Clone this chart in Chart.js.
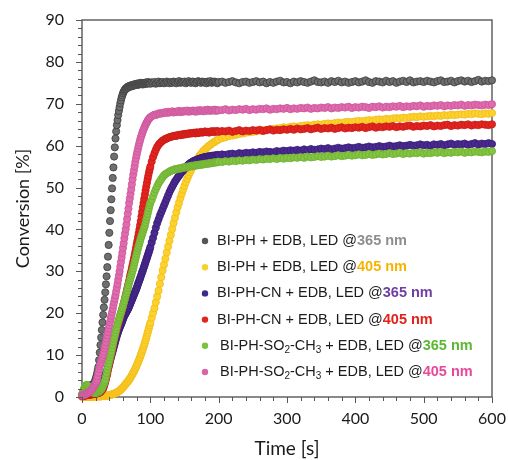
<!DOCTYPE html>
<html>
<head>
<meta charset="utf-8">
<script src="https://cdn.jsdelivr.net/npm/chart.js@4.4.1/dist/chart.umd.min.js"></script>
<style>
  html, body { margin: 0; padding: 0; background: #fff; }
</style>
</head>
<body>
<canvas id="grafico" width="508" height="460"></canvas>
<script>
// tempos (s): 1 s ate 100, 2 s ate 200, 5 s ate 600
const timeA = [0,1,2,3,4,5,6,7,8,9,
  10,11,12,13,14,15,16,17,18,19,
  20,21,22,23,24,25,26,27,28,29,
  30,31,32,33,34,35,36,37,38,39,
  40,41,42,43,44,45,46,47,48,49,
  50,51,52,53,54,55,56,57,58,59,
  60,61,62,63,64,65,66,67,68,69,
  70,71,72,73,74,75,76,77,78,79,
  80,81,82,83,84,85,86,87,88,89,
  90,91,92,93,94,95,96,97,98,99,
  100];
const timeB = [102,104,106,108,110,112,114,116,118,120,
  122,124,126,128,130,132,134,136,138,140,
  142,144,146,148,150,152,154,156,158,160,
  162,164,166,168,170,172,174,176,178,180,
  182,184,186,188,190,192,194,196,198,200];
const timeC = [205,210,215,220,225,230,235,240,245,250,
  255,260,265,270,275,280,285,290,295,300,
  305,310,315,320,325,330,335,340,345,350,
  355,360,365,370,375,380,385,390,395,400,
  405,410,415,420,425,430,435,440,445,450,
  455,460,465,470,475,480,485,490,495,500,
  505,510,515,520,525,530,535,540,545,550,
  555,560,565,570,575,580,585,590,595,600];

// BI-PH + EDB, LED @365 nm
const ph365A = [0.2,0.4,0.5,0.6,0.7,0.8,0.9,1.0,1.1,1.2,
  1.3,1.5,1.7,1.9,2.1,2.4,2.7,3.0,3.4,3.8,
  4.3,4.9,5.6,6.4,7.2,8.8,10.6,12.4,14.2,16.0,
  17.8,19.6,21.4,23.2,25.0,26.9,28.8,31.0,33.5,36.3,
  39.2,42.0,44.6,47.2,49.8,52.3,54.8,57.4,59.6,61.7,
  63.4,64.9,66.1,67.3,68.3,69.2,70.1,70.8,71.5,72.0,
  72.5,72.9,73.2,73.4,73.7,73.6,73.9,74.1,73.9,74.2,
  74.3,74.1,74.4,74.2,74.5,74.3,74.6,74.4,74.7,74.5,
  74.8,74.5,74.7,74.9,74.6,74.8,75.0,74.7,74.9,74.6,
  74.9,74.7,75.0,74.8,75.1,74.8,74.9,75.2,74.9,75.0,
  74.8];
const ph365B = [75.1,74.9,75.2,74.8,75.0,75.3,74.9,75.1,75.2,74.9,
  75.0,75.3,75.1,74.9,75.2,75.0,75.3,75.1,74.9,75.2,
  75.4,75.0,75.2,75.1,75.3,74.9,75.2,75.4,75.1,75.0,
  75.3,75.2,74.9,75.1,75.4,75.2,75.0,75.3,75.1,75.2,
  74.9,75.3,75.1,75.4,75.0,75.2,75.3,75.1,74.9,75.2];
const ph365C = [75.3,75.0,75.2,75.4,75.1,74.9,75.2,75.3,75.0,75.2,
  75.4,75.1,75.3,74.9,75.2,75.0,75.3,75.5,75.1,75.2,
  74.9,75.3,75.1,75.4,75.2,75.0,75.3,75.6,75.2,75.1,
  75.3,75.0,75.4,75.2,75.5,75.1,75.3,75.0,75.2,75.4,
  75.1,75.3,75.6,75.2,75.0,75.4,75.3,75.1,75.5,75.2,
  75.4,75.0,75.3,75.5,75.2,75.6,75.1,75.3,75.4,75.2,
  75.5,75.3,75.1,75.4,75.6,75.2,75.3,75.5,75.1,75.4,
  75.6,75.3,75.5,75.2,75.4,75.7,75.3,75.5,75.4,75.6];

// BI-PH + EDB, LED @405 nm
const ph405A = [0.0,0.1,0.0,0.1,0.0,0.1,0.0,0.1,0.1,0.0,
  0.1,0.1,0.0,0.1,0.1,0.0,0.1,0.1,0.2,0.1,
  0.1,0.2,0.1,0.2,0.1,0.2,0.2,0.1,0.2,0.2,
  0.3,0.2,0.3,0.3,0.2,0.3,0.3,0.4,0.3,0.4,
  0.4,0.5,0.5,0.6,0.6,0.7,0.7,0.8,0.9,0.9,
  1.0,1.1,1.2,1.3,1.4,1.5,1.7,1.8,2.0,2.1,
  2.3,2.5,2.7,2.9,3.1,3.3,3.5,3.7,3.9,4.1,
  4.4,4.6,4.9,5.2,5.5,5.8,6.1,6.4,6.8,7.1,
  7.5,7.9,8.3,8.7,9.1,9.5,10.0,10.4,10.9,11.4,
  11.9,12.4,12.9,13.5,14.1,14.7,15.3,15.9,16.5,17.1,
  17.7];
const ph405B = [18.9,20.1,21.2,22.6,24.0,25.4,27.0,28.6,30.2,31.6,
  33.0,34.5,35.9,37.3,38.7,40.1,41.5,42.8,44.1,45.3,
  46.4,47.5,48.5,49.5,50.4,51.3,52.1,52.9,53.6,54.3,
  54.9,55.5,56.1,56.6,57.1,57.6,58.0,58.4,58.8,59.1,
  59.4,59.7,60.0,60.2,60.5,60.7,60.9,61.1,61.3,61.5];
const ph405C = [61.8,62.0,62.3,62.4,62.6,62.8,62.9,63.1,63.2,63.3,
  63.4,63.6,63.7,63.8,63.9,64.0,64.1,64.2,64.4,64.3,
  64.5,64.6,64.5,64.7,64.8,64.9,64.8,65.0,65.1,65.0,
  65.2,65.3,65.2,65.4,65.5,65.4,65.6,65.7,65.6,65.8,
  65.9,65.8,66.0,66.1,66.0,66.2,66.3,66.2,66.4,66.3,
  66.5,66.6,66.5,66.7,66.6,66.8,66.9,66.8,67.0,66.9,
  67.0,67.1,67.0,67.2,67.1,67.3,67.2,67.4,67.3,67.4,
  67.5,67.4,67.6,67.5,67.7,67.6,67.5,67.7,67.6,67.8];

// BI-PH-CN + EDB, LED @365 nm
const cn365A = [0.5,0.8,1.1,1.4,1.7,2.0,2.2,2.4,2.5,2.6,
  2.6,2.7,2.7,2.8,2.8,2.7,2.7,2.6,2.6,2.6,
  2.6,2.6,2.7,2.7,2.8,2.9,3.0,3.2,3.4,3.6,
  3.8,4.1,4.4,4.8,5.2,5.6,6.0,6.5,7.0,7.5,
  8.0,8.6,9.2,9.8,10.4,11.0,11.6,12.2,12.8,13.4,
  14.0,14.6,15.1,15.6,16.1,16.5,16.9,17.3,17.7,18.1,
  18.6,19.0,19.4,19.7,20.0,20.3,20.6,20.9,21.2,21.6,
  22.0,22.4,22.8,23.2,23.6,24.0,24.4,24.8,25.2,25.6,
  26.0,26.5,27.0,27.4,27.9,28.3,28.8,29.3,29.8,30.2,
  30.7,31.2,31.7,32.2,32.7,33.2,33.7,34.2,34.7,35.2,
  35.8];
const cn365B = [36.9,38.0,39.2,40.4,41.5,42.4,43.3,44.1,44.9,45.7,
  46.5,47.3,48.1,48.9,49.6,50.2,50.8,51.4,51.9,52.4,
  52.8,53.3,53.7,54.1,54.5,54.9,55.2,55.5,55.8,56.0,
  56.2,56.4,56.5,56.6,56.8,56.9,57.0,57.1,57.2,57.3,
  57.3,57.4,57.5,57.4,57.6,57.5,57.7,57.6,57.8,57.7];
const cn365C = [57.9,57.8,58.0,58.1,57.9,58.2,58.1,58.3,58.2,58.4,
  58.3,58.5,58.4,58.6,58.5,58.4,58.7,58.6,58.8,58.7,
  58.9,58.8,59.0,58.8,59.1,58.9,59.2,59.0,59.1,59.3,
  59.2,59.4,59.1,59.3,59.5,59.3,59.4,59.6,59.4,59.5,
  59.7,59.5,59.6,59.8,59.6,59.7,59.9,59.7,59.8,60.0,
  59.8,59.9,60.1,59.9,60.0,60.2,60.0,60.1,60.3,60.1,
  60.2,60.0,60.3,60.2,60.4,60.1,60.3,60.5,60.2,60.4,
  60.3,60.5,60.2,60.4,60.6,60.3,60.5,60.4,60.6,60.4];

// BI-PH-CN + EDB, LED @405 nm
const cn405A = [0.2,0.3,0.2,0.4,0.3,0.4,0.5,0.4,0.5,0.5,
  0.6,0.5,0.6,0.6,0.7,0.6,0.7,0.7,0.8,0.7,
  0.8,0.8,0.9,0.9,1.0,1.0,1.1,1.2,1.4,1.6,
  1.8,2.0,2.5,3.0,3.6,4.2,4.9,5.5,6.3,7.1,
  7.9,8.7,9.5,10.3,11.1,11.9,12.7,13.5,14.3,15.0,
  15.6,16.3,16.9,17.5,18.1,18.7,19.3,19.9,20.5,21.1,
  21.7,22.3,22.9,23.6,24.3,25.0,25.7,26.4,27.1,27.8,
  28.6,29.3,30.0,30.8,31.5,32.3,33.1,33.9,34.7,35.6,
  36.5,37.3,38.2,39.1,40.0,41.0,42.0,43.1,44.2,45.3,
  46.3,47.3,48.3,49.3,50.2,51.1,52.0,52.8,53.6,54.3,
  55.0];
const cn405B = [56.2,57.3,58.2,59.0,59.7,60.2,60.6,60.9,61.2,61.4,
  61.6,61.7,61.9,62.0,62.1,62.2,62.3,62.4,62.3,62.5,
  62.6,62.5,62.7,62.6,62.8,62.7,62.9,62.8,63.0,62.9,
  63.0,63.1,62.9,63.2,63.0,63.1,63.3,63.1,63.2,63.4,
  63.2,63.3,63.1,63.4,63.3,63.5,63.2,63.4,63.5,63.3];
const cn405C = [63.5,63.4,63.6,63.3,63.5,63.7,63.4,63.6,63.5,63.7,
  63.6,63.8,63.5,63.7,63.9,63.6,63.8,63.7,63.9,63.8,
  64.0,63.8,64.1,63.9,64.0,64.2,63.9,64.1,64.3,64.0,
  64.2,64.1,64.3,64.0,64.2,64.4,64.1,64.3,64.2,64.4,
  64.3,64.5,64.2,64.4,64.6,64.3,64.5,64.4,64.6,64.5,
  64.7,64.4,64.6,64.5,64.7,64.8,64.5,64.7,64.6,64.8,
  64.7,64.9,64.6,64.8,64.7,64.9,65.0,64.7,64.9,64.8,
  65.0,64.9,65.1,64.8,65.0,64.9,65.1,65.0,64.9,65.1];

// BI-PH-SO2-CH3 + EDB, LED @365 nm
const so2365A = [0.5,1.0,1.5,2.0,2.4,2.6,2.8,2.9,2.8,2.6,
  2.3,2.0,1.7,1.5,1.3,1.2,1.1,1.0,1.0,1.0,
  1.0,1.0,1.1,1.1,1.2,1.3,1.4,1.6,1.8,2.0,
  2.4,2.8,3.2,3.6,4.1,4.9,5.7,6.5,7.3,8.0,
  8.7,9.4,10.1,10.8,11.6,12.4,13.2,13.9,14.6,15.3,
  16.0,16.7,17.4,18.0,18.5,19.0,19.6,20.1,20.6,21.2,
  21.7,22.3,22.9,23.5,24.1,24.7,25.3,26.0,26.7,27.3,
  27.9,28.4,29.0,29.6,30.1,30.7,31.4,32.1,32.8,33.5,
  34.2,34.9,35.5,36.1,36.7,37.3,37.9,38.4,38.9,39.4,
  39.9,40.4,40.9,41.6,42.3,43.0,43.7,44.4,45.1,45.8,
  46.4];
const so2365B = [47.0,47.9,48.8,49.6,50.3,51.0,51.5,52.0,52.5,52.9,
  53.2,53.4,53.6,53.8,54.0,54.1,54.2,54.4,54.3,54.5,
  54.6,54.5,54.7,54.8,54.7,54.9,55.0,54.9,55.1,55.2,
  55.1,55.3,55.2,55.4,55.3,55.5,55.4,55.6,55.5,55.7,
  55.6,55.8,55.7,55.9,55.8,56.0,55.9,56.1,56.0,56.2];
const so2365C = [56.1,56.3,56.2,56.4,56.3,56.5,56.4,56.6,56.5,56.7,
  56.6,56.8,56.7,56.9,56.8,57.0,56.8,57.1,56.9,57.1,
  57.0,57.2,57.1,57.3,57.1,57.4,57.2,57.3,57.5,57.3,
  57.4,57.6,57.4,57.5,57.7,57.5,57.6,57.8,57.6,57.7,
  57.9,57.7,57.8,58.0,57.8,57.9,58.1,57.9,58.0,58.2,
  58.0,58.1,58.3,58.0,58.2,58.1,58.3,58.2,58.4,58.1,
  58.3,58.2,58.4,58.3,58.5,58.2,58.4,58.3,58.5,58.4,
  58.6,58.3,58.5,58.4,58.6,58.5,58.4,58.6,58.5,58.7];

// BI-PH-SO2-CH3 + EDB, LED @405 nm
const so2405A = [0.3,0.5,0.4,0.6,0.7,0.6,0.8,0.9,0.9,1.0,
  1.1,1.2,1.4,1.5,1.7,1.9,2.2,2.5,2.8,3.1,
  3.4,3.7,4.2,4.9,5.8,6.7,7.4,7.9,8.4,9.0,
  9.5,10.1,10.8,11.6,12.3,13.1,13.9,14.7,15.5,16.3,
  17.1,17.9,18.7,19.4,20.2,21.0,21.9,22.7,23.5,24.3,
  25.2,26.1,27.0,28.0,29.0,30.0,31.1,32.2,33.3,34.4,
  35.6,36.7,37.9,39.0,40.1,41.2,42.5,43.8,45.0,46.3,
  47.4,48.5,49.6,50.8,52.0,53.1,54.1,55.1,56.1,57.0,
  57.8,58.6,59.3,60.0,60.7,61.3,61.9,62.4,62.9,63.4,
  63.8,64.2,64.6,65.0,65.3,65.6,65.9,66.2,66.4,66.6,
  66.8];
const so2405B = [67.0,67.2,67.4,67.3,67.5,67.7,67.6,67.8,67.7,67.9,
  68.0,67.8,68.1,67.9,68.0,68.2,67.9,68.1,68.0,68.2,
  68.3,68.0,68.2,68.1,68.3,68.2,68.4,68.1,68.3,68.2,
  68.4,68.3,68.1,68.4,68.2,68.5,68.3,68.4,68.2,68.5,
  68.3,68.6,68.4,68.3,68.5,68.4,68.6,68.3,68.5,68.4];
const so2405C = [68.5,68.7,68.4,68.6,68.5,68.7,68.6,68.8,68.5,68.7,
  68.6,68.8,68.7,68.9,68.6,68.8,68.7,68.9,68.8,69.0,
  68.7,68.9,68.8,69.0,68.9,69.1,68.8,69.0,68.9,69.1,
  69.0,69.2,68.9,69.1,69.0,69.2,69.1,69.3,69.0,69.2,
  69.1,69.3,69.2,69.0,69.3,69.2,69.4,69.1,69.3,69.2,
  69.4,69.3,69.5,69.2,69.4,69.3,69.5,69.4,69.6,69.3,
  69.5,69.4,69.6,69.5,69.7,69.4,69.6,69.5,69.7,69.6,
  69.8,69.5,69.7,69.6,69.8,69.7,69.6,69.8,69.7,69.9];

const seriesLabels = [
  'BI-PH + EDB, LED @365 nm',
  'BI-PH + EDB, LED @405 nm',
  'BI-PH-CN + EDB, LED @365 nm',
  'BI-PH-CN + EDB, LED @405 nm',
  'BI-PH-SO₂-CH₃ + EDB, LED @365 nm',
  'BI-PH-SO₂-CH₃ + EDB, LED @405 nm'
];
const fillColors   = ['#6f6f6f', '#fcd22c', '#4a2a90', '#e3241f', '#84c443', '#e06cae'];
const borderColors = ['#3c3c3c', '#f2bb1c', '#361d74', '#c61b17', '#6daf31', '#c9569a'];
const legendDots   = ['#555555', '#f7d12d', '#3f2a8a', '#e22420', '#7cc242', '#d965a8'];
const legendWaveColors = ['#8e8e8e', '#f6b400', '#6e3fa3', '#e3201b', '#5cb833', '#e8489a'];

const times = timeA.concat(timeB, timeC);

function pontos(a, b, c) {
  const valores = a.concat(b, c);
  return times.map((t, i) => ({ x: t, y: valores[i] }));
}

const seriesValues = [
  pontos(ph365A, ph365B, ph365C),
  pontos(ph405A, ph405B, ph405C),
  pontos(cn365A, cn365B, cn365C),
  pontos(cn405A, cn405B, cn405C),
  pontos(so2365A, so2365B, so2365C),
  pontos(so2405A, so2405B, so2405C)
];

function criarDataset(i) {
  return {
    label: seriesLabels[i],
    data: seriesValues[i],
    backgroundColor: fillColors[i],
    borderColor: borderColors[i],
    pointRadius: 3.6,
    pointBorderWidth: 0.8,
    pointHoverRadius: 3.6,
    showLine: false,
    clip: false,
    order: 5 - i
  };
}

const TICK_FONT = { family: 'Lato, "Open Sans", sans-serif', size: 16 };
const AXIS_COLOR = '#575757';

// moldura da area do grafico
const moldura = {
  id: 'moldura',
  beforeDatasetsDraw(chart) {
    const { ctx, chartArea: a } = chart;
    ctx.save();
    ctx.strokeStyle = AXIS_COLOR;
    ctx.lineWidth = 1.4;
    ctx.strokeRect(a.left, a.top, a.right - a.left, a.bottom - a.top);
    ctx.restore();
  }
};

// tracos de escala maiores e menores
const marcas = {
  id: 'marcas',
  afterDraw(chart) {
    const { ctx, chartArea: a, scales } = chart;
    ctx.save();
    ctx.strokeStyle = AXIS_COLOR;
    ctx.lineWidth = 1;
    for (let v = 0; v <= 600; v += 20) {
      const px = Math.round(scales.x.getPixelForValue(v)) + 0.5;
      const len = v % 100 === 0 ? 6 : 4;
      ctx.beginPath();
      ctx.moveTo(px, a.bottom);
      ctx.lineTo(px, a.bottom + len);
      ctx.stroke();
    }
    for (let v = 0; v <= 90; v += 2) {
      const py = Math.round(scales.y.getPixelForValue(v)) + 0.5;
      const len = v % 10 === 0 ? 6 : 4;
      ctx.beginPath();
      ctx.moveTo(a.left, py);
      ctx.lineTo(a.left - len, py);
      ctx.stroke();
    }
    ctx.restore();
  }
};

// legenda com subscritos e comprimento de onda colorido
const SUBS = { '₂': '2', '₃': '3' };
const LEGEND_FONT = '"Liberation Sans", Arial, sans-serif';

function desenharLinha(ctx, label, x, y, corOnda) {
  const at = label.indexOf('@');
  const inicio = label.slice(0, at + 1);
  const onda = label.slice(at + 1);
  ctx.fillStyle = '#1c1c1c';
  for (const ch of inicio) {
    if (SUBS[ch]) {
      ctx.font = '10px ' + LEGEND_FONT;
      ctx.fillText(SUBS[ch], x, y + 4);
      x += ctx.measureText(SUBS[ch]).width;
    } else {
      ctx.font = '14.5px ' + LEGEND_FONT;
      ctx.fillText(ch, x, y);
      x += ctx.measureText(ch).width;
    }
  }
  ctx.font = 'bold 14.5px ' + LEGEND_FONT;
  ctx.fillStyle = corOnda;
  ctx.fillText(onda, x, y);
}

const legenda = {
  id: 'legenda',
  afterDraw(chart) {
    const { ctx, chartArea: a } = chart;
    ctx.save();
    ctx.textBaseline = 'middle';
    ctx.textAlign = 'left';
    seriesLabels.forEach((label, i) => {
      const y = a.top + 221 + i * 26.2;
      ctx.beginPath();
      ctx.arc(a.left + 123, y, 3.2, 0, Math.PI * 2);
      ctx.fillStyle = legendDots[i];
      ctx.fill();
      desenharLinha(ctx, label, a.left + (i < 4 ? 135 : 138), y, legendWaveColors[i]);
    });
    ctx.restore();
  }
};

const ctx = document.getElementById('grafico').getContext('2d');

new Chart(ctx, {
  type: 'scatter',
  data: { datasets: seriesLabels.map((_, i) => criarDataset(i)) },
  options: {
    responsive: false,
    animation: false,
    layout: { padding: { top: 20, right: 16, left: 0, bottom: 0 } },
    plugins: {
      legend: { display: false },
      tooltip: { enabled: false }
    },
    scales: {
      x: {
        type: 'linear',
        min: 0,
        max: 600,
        ticks: { stepSize: 100, font: TICK_FONT, color: '#1a1a1a', padding: 12, maxRotation: 0 },
        grid: { display: false, drawTicks: false },
        border: { display: false },
        title: {
          display: true,
          text: 'Time [s]',
          font: { family: 'Lato, "Open Sans", sans-serif', size: 19 },
          color: '#1a1a1a',
          padding: { top: 0, bottom: 0 }
        },
        afterFit(scale) {
          scale.height = 63;
          scale.paddingLeft = 0;
          scale.paddingRight = 0;
        }
      },
      y: {
        min: 0,
        max: 90,
        ticks: { stepSize: 10, font: TICK_FONT, color: '#1a1a1a', padding: 18 },
        grid: { display: false, drawTicks: false },
        border: { display: false },
        title: {
          display: true,
          text: 'Conversion [%]',
          font: { family: 'Lato, "Open Sans", sans-serif', size: 18 },
          color: '#1a1a1a',
          padding: { top: 12, bottom: 0 }
        },
        afterFit(scale) {
          scale.width = 82;
          scale.paddingTop = 0;
          scale.paddingBottom = 0;
        }
      }
    }
  },
  plugins: [moldura, marcas, legenda]
});
</script>
</body>
</html>
